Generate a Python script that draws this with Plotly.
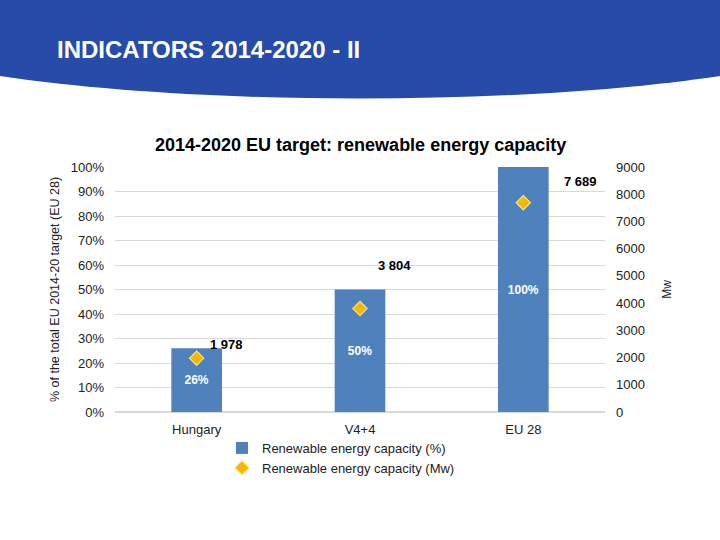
import plotly.graph_objects as go

# ---- data ----
categories = ["Hungary", "V4+4", "EU 28"]
capacity_pct = [0.26, 0.50, 1.00]
capacity_mw = [1978, 3804, 7689]
header_title = "INDICATORS 2014-2020 - II"
chart_title = "2014-2020 EU target: renewable energy capacity"
pct_ticks = [0, 0.1, 0.2, 0.3, 0.4, 0.5, 0.6, 0.7, 0.8, 0.9, 1.0]
mw_ticks = [0, 1000, 2000, 3000, 4000, 5000, 6000, 7000, 8000, 9000]

# label offsets for Mw labels (pixels)
mw_label_shift = [(30, 14), (34, 43), (57, 21)]

W, H = 720, 540
L, R, T, B = 115, 605, 167, 412  # plot area pixels


def px(x):
    return (x - L) / (R - L)


def py(y):
    return (B - y) / (B - T)


FONT = "Liberation Sans, Arial, sans-serif"

fig = go.Figure()
fig.add_trace(go.Bar(
    x=categories, y=capacity_pct, name="Renewable energy capacity (%)",
    marker=dict(color="#4F81BD", line=dict(width=0)),
    text=[f"{int(round(v * 100))}%" for v in capacity_pct],
    textposition="inside", insidetextanchor="middle", textangle=0,
    constraintext="none",
    textfont=dict(color="white", size=12, family=FONT, weight="bold"),
    yaxis="y",
))
fig.add_trace(go.Scatter(
    x=categories, y=capacity_mw, name="Renewable energy capacity (Mw)",
    mode="markers",
    marker=dict(symbol="diamond", size=11, color="#F5B800",
                line=dict(color="#FFE38A", width=1.2)),
    yaxis="y2",
))

for cat, v, (dx, dy) in zip(categories, capacity_mw, mw_label_shift):
    fig.add_annotation(
        x=cat, y=v, xref="x", yref="y2", showarrow=False,
        text=f"{v:,}".replace(",", " "), xshift=dx, yshift=dy,
        font=dict(size=13, color="black", family=FONT, weight="bold"),
    )

# header band
path = (f"M {px(0)},{py(0)} L {px(W)},{py(0)} L {px(W)},{py(76)} "
        f"C {px(520)},{py(106)} {px(200)},{py(106)} {px(0)},{py(76)} Z")
fig.add_shape(type="path", path=path, xref="paper", yref="paper",
              fillcolor="#264BA8", line=dict(width=0), layer="below")
fig.add_annotation(x=px(55), y=py(49), xref="paper", yref="paper",
                   xanchor="left", yanchor="middle", showarrow=False,
                   text=header_title,
                   font=dict(size=24, color="white", family=FONT, weight="bold"))
fig.add_annotation(x=px(360), y=py(145), xref="paper", yref="paper",
                   xanchor="center", yanchor="middle", showarrow=False,
                   text=chart_title,
                   font=dict(size=18, color="black", family=FONT, weight="bold"))

fig.update_layout(
    width=W, height=H,
    margin=dict(l=L, r=W - R, t=T, b=H - B),
    paper_bgcolor="white", plot_bgcolor="white",
    font=dict(family=FONT, size=12, color="#222222"),
    bargap=0.69,
    showlegend=True,
    legend=dict(x=px(222), y=py(433), xanchor="left", yanchor="top",
                orientation="v", font=dict(size=13, color="#222222"),
                bgcolor="rgba(0,0,0,0)", tracegroupgap=0),
    xaxis=dict(showgrid=False, showline=False, ticks="", tickfont=dict(size=13),
               ticklabelstandoff=8),
    yaxis=dict(range=[0, 1], tickvals=pct_ticks, tickformat=".0%",
               showgrid=True, gridcolor="#D9D9D9", gridwidth=1,
               zeroline=True, zerolinecolor="#D9D9D9", showline=False,
               ticks="", ticklabelstandoff=10, tickfont=dict(size=13),
               title=dict(text="% of the total EU 2014-20 target (EU 28)",
                          font=dict(size=12.5, color="#222222"), standoff=8)),
    yaxis2=dict(range=[0, 9000], tickvals=mw_ticks, overlaying="y", side="right",
                showgrid=False, zeroline=False, showline=False, ticks="",
                ticklabelstandoff=10, tickfont=dict(size=13),
                title=dict(text="Mw", font=dict(size=12, color="#222222"),
                           standoff=18)),
)

fig.write_html("out.html",
               config={"displayModeBar": False},
               post_script="document.body.style.margin='0';document.body.style.padding='0';")
